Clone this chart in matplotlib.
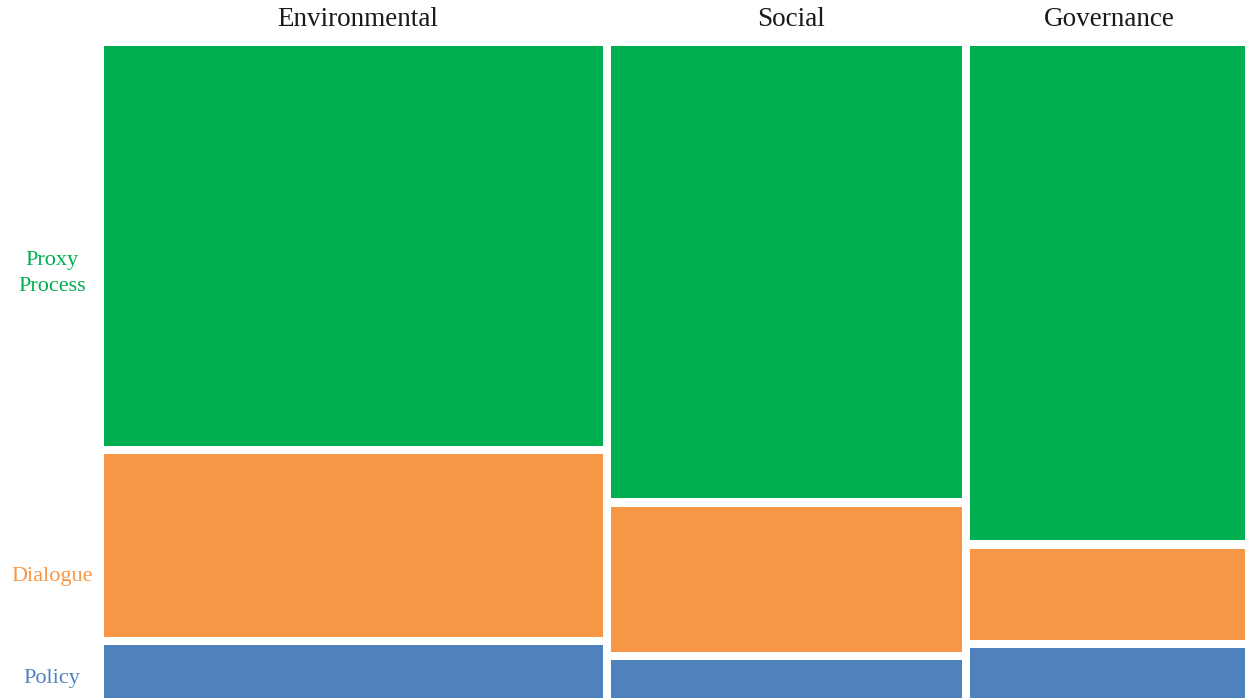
import matplotlib
matplotlib.use("Agg")
import matplotlib.pyplot as plt
from matplotlib.patches import Rectangle

categories = ["Environmental", "Social", "Governance"]
col_share = [44.3, 31.35, 24.35]          # column widths (% of total)
rows = ["Proxy\nProcess", "Dialogue", "Policy"]
proxy = [62.6, 70.7, 77.1]                # % within column
dialogue = [29.3, 23.5, 15.3]
policy = [8.1, 5.8, 7.6]
colors = ["#00AF50", "#F79646", "#4F81BD"]

W, H = 1245, 698
fig = plt.figure(figsize=(W / 100, H / 100), dpi=100)
left_px, top_px, width_px = 104, 46, 1145
height_px = H - top_px
ax = fig.add_axes([left_px / W, 0, width_px / W, height_px / H])
ax.set_xlim(0, 1)
ax.set_ylim(1, 0)
ax.axis("off")

gap = 8.5
gx = gap / width_px
gy = gap / height_px
font = "Liberation Serif"

series = [proxy, dialogue, policy]
total = sum(col_share)
x0 = 0.0
for ci, cat in enumerate(categories):
    w = col_share[ci] / total
    last_col = ci == len(categories) - 1
    y0 = 0.0
    for ri in range(len(series)):
        h = series[ri][ci] / 100.0
        last_row = ri == len(series) - 1
        rw = w - (0 if last_col else gx)
        rh = h - (0 if last_row else gy)
        ax.add_patch(Rectangle((x0, y0), rw, rh, facecolor=colors[ri],
                               edgecolor="none", clip_on=False))
        y0 += h
    ax.text(x0 + w / 2, -26.5 / height_px, cat, ha="center", va="center",
            fontsize=19.5, family=font, color="#1a1a1a", clip_on=False)
    x0 += w

# row labels at weighted average positions
cum = 0.0
for ri, lab in enumerate(rows):
    avg = sum(col_share[ci] / total * series[ri][ci] / 100.0
              for ci in range(len(categories)))
    yc = cum + avg / 2
    ax.text((52 - left_px) / width_px, yc + 4 / height_px, lab, ha="center",
            va="center", fontsize=16, family=font, color=colors[ri],
            linespacing=1.5, clip_on=False)
    cum += avg

fig.savefig("out.png", dpi=100)
